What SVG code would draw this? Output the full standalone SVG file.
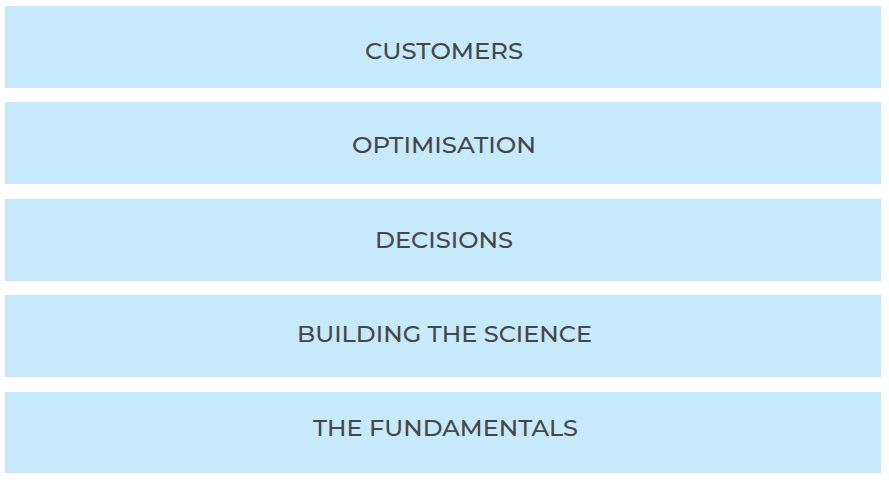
<svg xmlns="http://www.w3.org/2000/svg" width="889" height="481" viewBox="0 0 889 481">
<style>
.box{fill:#c6e9fc}
.lbl{font-family:"Montserrat","Open Sans","Liberation Sans",sans-serif;font-weight:500;font-size:23px;fill:#474747;text-anchor:middle}
</style>
<rect width="889" height="481" fill="#ffffff"/>
<g id="customers"><rect class="box" x="5" y="6" width="876" height="82"/><text class="lbl" x="444" y="59" textLength="158" lengthAdjust="spacingAndGlyphs">CUSTOMERS</text></g>
<g id="optimisation"><rect class="box" x="5" y="102" width="876" height="82"/><text class="lbl" x="444" y="153" textLength="184" lengthAdjust="spacingAndGlyphs">OPTIMISATION</text></g>
<g id="decisions"><rect class="box" x="5" y="199" width="876" height="82"/><text class="lbl" x="444" y="248" textLength="138" lengthAdjust="spacingAndGlyphs">DECISIONS</text></g>
<g id="building"><rect class="box" x="5" y="295" width="876" height="82"/><text class="lbl" x="444.5" y="342" textLength="295" lengthAdjust="spacingAndGlyphs">BUILDING THE SCIENCE</text></g>
<g id="fundamentals"><rect class="box" x="5" y="392" width="876" height="81"/><text class="lbl" x="445.5" y="436" textLength="265" lengthAdjust="spacingAndGlyphs">THE FUNDAMENTALS</text></g>
<g id="connectors"></g>
</svg>
